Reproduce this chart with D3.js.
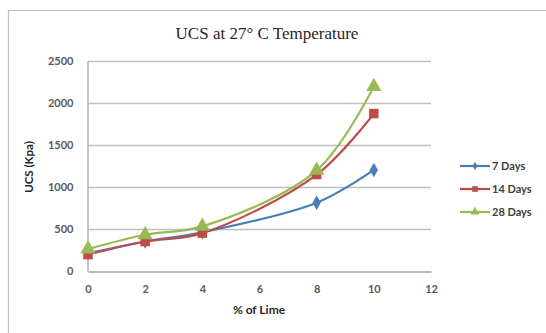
<!DOCTYPE html>
<html><head><meta charset="utf-8">
<script src="https://cdn.jsdelivr.net/npm/d3@7"></script>
<style>body{margin:0;background:#fff}svg{display:block}</style>
</head><body>
<script>
const lime = [0, 2, 4, 8, 10];
const days7 = [210, 350, 460, 810, 1200];
const days14 = [195, 350, 450, 1145, 1870];
const days28 = [260, 430, 530, 1195, 2190];
const seriesNames = ["7 Days", "14 Days", "28 Days"];
const xTicks = [0, 2, 4, 6, 8, 10, 12];
const yTicks = [0, 500, 1000, 1500, 2000, 2500];

const W = 546, H = 333;
const svg = d3.select("body").append("svg").attr("width", W).attr("height", H);
svg.append("rect").attr("width", W).attr("height", H).attr("fill", "#fff");
// outer frame
svg.append("path").attr("d", `M8.5,${H}V10.5H${W}`).attr("fill", "none").attr("stroke", "#bdbdbd").attr("stroke-width", 1.2);

const x = d3.scaleLinear().domain([0, 12]).range([88, 431]);
const y = d3.scaleLinear().domain([0, 2500]).range([271, 60.5]);

// gridlines
svg.append("g").selectAll("line").data(yTicks.slice(1)).join("line")
  .attr("x1", x(0)).attr("x2", x(12)).attr("y1", d => Math.round(y(d)) + 0.5).attr("y2", d => Math.round(y(d)) + 0.5)
  .attr("stroke", "#c0c0c0").attr("stroke-width", 1.3);

// axes
const xAxis = svg.append("g").attr("transform", `translate(0,${Math.round(y(0)) + 0.5})`)
  .call(d3.axisBottom(x).tickValues(xTicks).tickSize(0).tickPadding(14).tickFormat(d3.format("d")));
const yAxis = svg.append("g").attr("transform", `translate(${x(0) - 0.5},0)`)
  .call(d3.axisLeft(y).tickValues(yTicks).tickSize(0).tickPadding(14).tickFormat(d3.format("d")));
[xAxis, yAxis].forEach(a => {
  a.select(".domain").attr("stroke", "#a6a6a6").attr("stroke-width", 1.3);
  a.selectAll("text").attr("font-family", "Lato, 'Open Sans', sans-serif").attr("font-weight", "bold")
    .attr("font-size", 11).attr("fill", "#595959");
});
yAxis.selectAll("text").attr("dy", "0.35em");

// titles
svg.append("text").attr("x", 267).attr("y", 39).attr("text-anchor", "middle")
  .attr("font-family", "'Liberation Serif', 'Times New Roman', serif").attr("font-size", 17).attr("fill", "#262626")
  .text("UCS at 27° C Temperature");
svg.append("text").attr("x", 259).attr("y", 314).attr("text-anchor", "middle")
  .attr("font-family", "Lato, sans-serif").attr("font-weight", "bold").attr("font-size", 12).attr("fill", "#262626")
  .text("% of Lime");
svg.append("text").attr("transform", "translate(33,167) rotate(-90)").attr("text-anchor", "middle")
  .attr("font-family", "Lato, sans-serif").attr("font-weight", "bold").attr("font-size", 11.5).attr("fill", "#262626")
  .text("UCS (Kpa)");

const colors = ["#4a7ebb", "#be4b48", "#98b954"];
const symbols = [d3.symbolDiamond, d3.symbolSquare, d3.symbolTriangle];
const sizes = [60, 90, 100];
const data = [days7, days14, days28];

const line = d3.line().x((d, i) => x(lime[i])).y(d => y(d)).curve(d3.curveCatmullRom.alpha(0.5));

data.forEach((vals, s) => {
  svg.append("path").attr("d", line(vals)).attr("fill", "none")
    .attr("stroke", colors[s]).attr("stroke-width", 2.2);
});
data.forEach((vals, s) => {
  svg.append("g").selectAll("path").data(vals).join("path")
    .attr("transform", (d, i) => `translate(${x(lime[i])},${y(d)})`)
    .attr("d", d3.symbol().type(symbols[s]).size(sizes[s])).attr("fill", colors[s]);
});

// legend
const lg = svg.append("g");
seriesNames.forEach((n, s) => {
  const ly = 166 + s * 23;
  lg.append("line").attr("x1", 460).attr("x2", 490).attr("y1", ly).attr("y2", ly)
    .attr("stroke", colors[s]).attr("stroke-width", 2.2);
  lg.append("path").attr("transform", `translate(475,${ly})`)
    .attr("d", d3.symbol().type(symbols[s]).size(sizes[s] * 0.35)).attr("fill", colors[s]);
  lg.append("text").attr("x", 492).attr("y", ly).attr("dy", "0.35em")
    .attr("font-family", "Lato, sans-serif").attr("font-weight", "bold").attr("font-size", 11).attr("fill", "#404040")
    .text(n);
});
</script>
</body></html>
